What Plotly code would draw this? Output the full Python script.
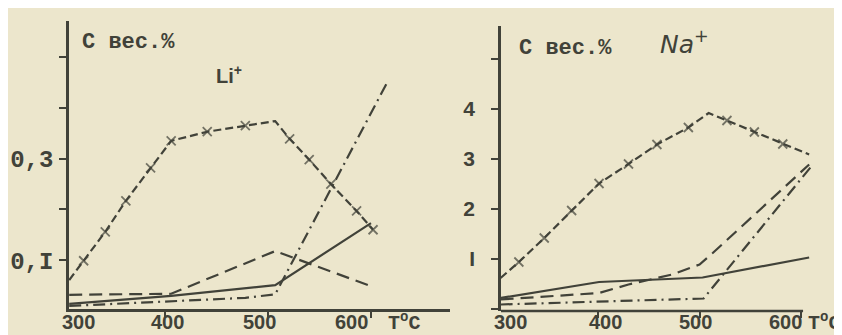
import plotly.graph_objs as go
from plotly.subplots import make_subplots

# температура, °C и содержание, вес.% (Li+ слева)
li_t_cross = [307, 321, 342, 362, 386, 406, 441, 478, 507, 521, 540, 561, 586, 602]
li_c_cross = [0.061, 0.099, 0.156, 0.217, 0.282, 0.335, 0.353, 0.365, 0.374, 0.339, 0.298, 0.250, 0.197, 0.160]
li_t_dash = [307, 406, 507, 600]
li_c_dash = [0.032, 0.034, 0.118, 0.049]
li_t_solid = [307, 406, 507, 600]
li_c_solid = [0.014, 0.030, 0.051, 0.173]
li_t_dashdot = [307, 478, 507, 617]
li_c_dashdot = [0.010, 0.026, 0.033, 0.455]

# Na+ справа
na_t_cross = [304, 322, 347, 374, 401, 430, 458, 489, 509, 527, 554, 582, 608]
na_c_cross = [0.62, 0.94, 1.42, 1.97, 2.51, 2.90, 3.29, 3.63, 3.92, 3.77, 3.54, 3.30, 3.09]
na_t_dash = [304, 401, 430, 473, 500, 513, 608]
na_c_dash = [0.19, 0.32, 0.49, 0.69, 0.89, 1.12, 2.89]
na_t_solid = [304, 401, 503, 608]
na_c_solid = [0.22, 0.54, 0.63, 1.03]
na_t_dashdot = [304, 504, 610]
na_c_dashdot = [0.09, 0.21, 2.85]

li_yticks = [0.1, 0.3]
li_ytext = ["0,I", "0,3"]
na_yticks = [1, 2, 3, 4]
na_ytext = ["I", "2", "3", "4"]
x_ticks = [400, 500, 600]
x_labels = ["300", "400", "500", "600"]

ink = "#414239"
paper = "#ece6cc"
W, H = 842, 335

def px(x):  # пиксели -> доли листа
    return x / W

def py(y):
    return 1 - y / H

def no_marks(n, skip):
    return [0 if i in skip else 9 for i in range(n)]

fig = make_subplots(rows=1, cols=2)

def add_set(col, t_cross, c_cross, skip, t_dash, c_dash, t_solid, c_solid, t_dd, c_dd):
    fig.add_trace(go.Scatter(x=t_cross, y=c_cross, mode="lines+markers",
                             line=dict(color=ink, width=2.2, dash="8px,4px"),
                             marker=dict(symbol="x-thin", size=no_marks(len(t_cross), skip),
                                         line=dict(color=ink, width=1.8))),
                  row=1, col=col)
    fig.add_trace(go.Scatter(x=t_dash, y=c_dash, mode="lines",
                             line=dict(color=ink, width=2.2, dash="13px,7px")), row=1, col=col)
    fig.add_trace(go.Scatter(x=t_solid, y=c_solid, mode="lines",
                             line=dict(color=ink, width=2.2)), row=1, col=col)
    fig.add_trace(go.Scatter(x=t_dd, y=c_dd, mode="lines",
                             line=dict(color=ink, width=2.2, dash="12px,5px,2px,5px")), row=1, col=col)

add_set(1, li_t_cross, li_c_cross, (0, 8), li_t_dash, li_c_dash,
        li_t_solid, li_c_solid, li_t_dashdot, li_c_dashdot)
add_set(2, na_t_cross, na_c_cross, (0, 8, 12), na_t_dash, na_c_dash,
        na_t_solid, na_c_solid, na_t_dashdot, na_c_dashdot)

mono = dict(family="Liberation Mono", size=24, color=ink, weight="bold")
sans = dict(family="Liberation Sans", size=20, color=ink, weight="bold")

axis_common = dict(showgrid=False, zeroline=False, showline=True, linecolor=ink,
                   linewidth=2.5, ticks="outside", tickcolor=ink, tickwidth=2)

fig.update_xaxes(axis_common, domain=[px(61), px(442)], range=[306.8, 676.7],
                 tickvals=x_ticks, ticklen=6, showticklabels=False, row=1, col=1)
fig.update_yaxes(axis_common, domain=[py(301), py(13)], range=[0.004, 0.571],
                 tickvals=li_yticks, ticktext=li_ytext, ticklen=7, tickfont=mono,
                 minor=dict(dtick=0.1, tick0=0, ticks="outside", ticklen=7,
                            tickcolor=ink, tickwidth=2),
                 ticklabelstandoff=1, row=1, col=1)
fig.update_xaxes(axis_common, domain=[px(493), px(804)], range=[304.4, 610.8],
                 showline=False, tickvals=x_ticks, ticklen=6, showticklabels=False, row=1, col=2)
fig.update_yaxes(axis_common, domain=[py(303), py(18)], range=[-0.04, 5.66],
                 tickvals=na_yticks, ticktext=na_ytext, ticklen=7,
                 minor=dict(dtick=1, tick0=1, ticks="outside", ticklen=7,
                            tickcolor=ink, tickwidth=2),
                 tickfont=dict(family="Liberation Sans", size=21, color=ink, weight="bold"),
                 ticklabelstandoff=12, row=1, col=2)

# ось абсцисс правого графика заканчивается у 600
fig.add_shape(type="line", xref="x2", yref="y2 domain", x0=304.4, x1=602, y0=0, y1=0,
              line=dict(color=ink, width=2.5))

notes = []
for lbl, x in zip(x_labels, [70, 159, 251, 343]):
    notes.append(dict(text=lbl, x=px(x), y=py(314), font=sans))
for lbl, x in zip(x_labels, [502, 597, 687, 777]):
    notes.append(dict(text=lbl, x=px(x), y=py(314), font=sans))
tc = dict(family="Liberation Mono", size=20, color=ink, weight="bold")
notes.append(dict(text="T<sup>o</sup>C", x=px(396), y=py(314), font=tc))
notes.append(dict(text="T<sup>o</sup>C", x=px(816), y=py(314), font=tc))
ck = dict(family="Liberation Mono", size=22, color=ink, weight="bold")
notes.append(dict(text="C вес.%", x=px(120), y=py(35), font=ck))
notes.append(dict(text="C вес.%", x=px(557), y=py(40), font=ck))
notes.append(dict(text="Li<sup>+</sup>", x=px(221), y=py(67),
                  font=dict(family="Liberation Sans", size=20, color=ink, weight="bold")))
notes.append(dict(text="<i>Na</i><sup>+</sup>", x=px(676), y=py(35),
                  font=dict(family="DejaVu Sans", size=25, color=ink)))
for n in notes:
    fig.add_annotation(xref="paper", yref="paper", showarrow=False,
                       xanchor="center", yanchor="middle", **n)

fig.update_layout(width=W, height=H, autosize=False, showlegend=False,
                  margin=dict(l=0, r=0, t=0, b=0),
                  paper_bgcolor=paper, plot_bgcolor=paper)
fig.write_html("out.html")
